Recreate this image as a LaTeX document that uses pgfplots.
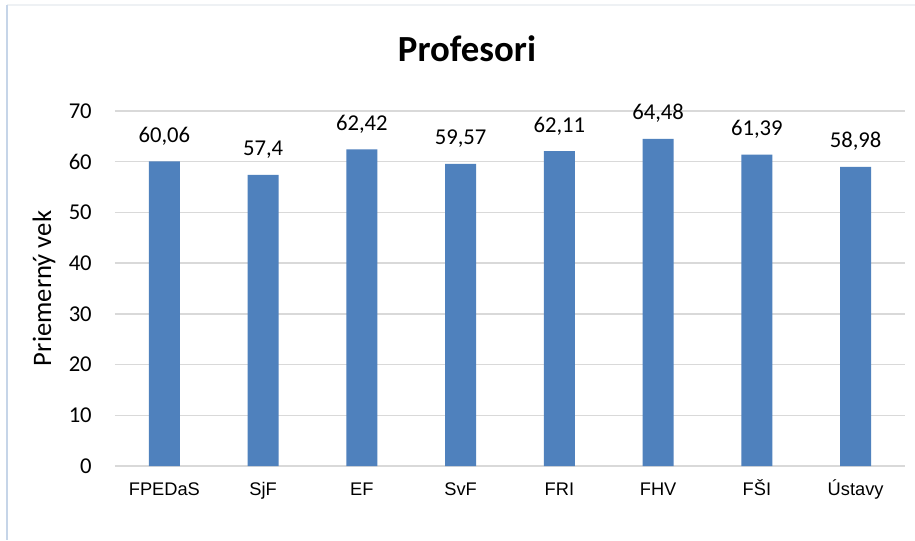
\documentclass[border=0pt]{standalone}
\usepackage{fontspec}
\setmainfont{Carlito}
\newfontfamily\arialfont{Liberation Sans}
\usepackage{pgfplots}
\pgfplotsset{compat=1.18}
\definecolor{barblue}{HTML}{4F81BD}
\definecolor{gridgray}{HTML}{D9D9D9}
\definecolor{frameblue}{HTML}{C6D5E8}
\definecolor{framefaint}{HTML}{EEF1F4}
\begin{document}
\begin{tikzpicture}
\path[use as bounding box, fill=white] (0,0) rectangle (686.25pt,405pt);
\draw[framefaint, line width=1pt] (5.25pt,401.25pt) -- (686.25pt,401.25pt);
\draw[frameblue, line width=1.1pt] (5.25pt,401.25pt) -- (5.25pt,0pt);
\node[anchor=base, font=\fontsize{27.6}{32}\selectfont\bfseries] at (350.25pt,358.5pt) {Profesori};
\begin{axis}[
  at={(86.25pt,55.5pt)}, anchor=south west,
  scale only axis, width=592.5pt, height=266.25pt,
  xmin=-0.5, xmax=7.5, ymin=0, ymax=70,
  ytick={0,10,...,70},
  xtick={0,...,7},
  xticklabels={FPEDaS,SjF,EF,SvF,FRI,FHV,FŠI,Ústavy},
  ymajorgrids, grid style={gridgray, line width=1.1pt},
  axis line style={draw=none},
  major tick length=0pt,
  /pgf/number format/assume math mode=true,
  /pgf/number format/use comma,
  yticklabel style={font=\fontsize{17}{20}\selectfont, anchor=east, inner sep=0pt, xshift=-17.25pt},
  xticklabel style={font=\arialfont\fontsize{13.7}{16}\selectfont, anchor=base, inner sep=0pt, yshift=-21.75pt},
  ylabel={Priemerný vek},
  ylabel style={at={(axis description cs:-0.0899,0.5)}, anchor=center, font=\fontsize{20}{24}\selectfont},
  nodes near coords,
  nodes near coords style={font=\fontsize{17}{20}\selectfont, anchor=base, inner sep=0pt, yshift=14.25pt},
]
\addplot[ybar, bar width=23.25pt, fill=barblue, draw=none] coordinates {
  (0,60.06) (1,57.4) (2,62.42) (3,59.57) (4,62.11) (5,64.48) (6,61.39) (7,58.98)
};
\end{axis}
\end{tikzpicture}
\end{document}
